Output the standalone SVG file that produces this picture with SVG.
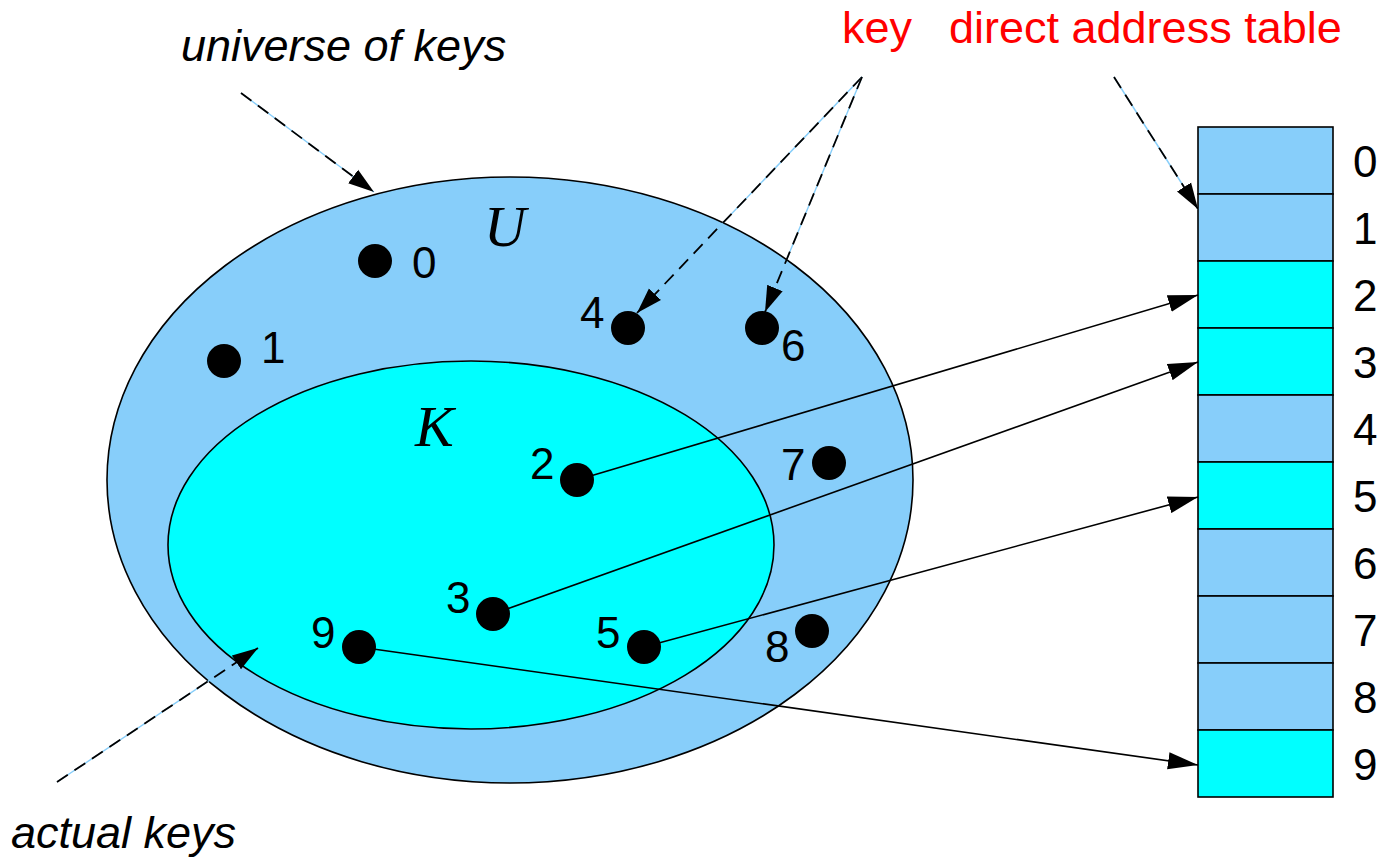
<svg xmlns="http://www.w3.org/2000/svg" width="1386" height="860" viewBox="0 0 1386 860">
<defs>
<style>
.lb{fill:#87cefa}
.cy{fill:#00ffff}
.ol{stroke:#000;stroke-width:1.6}
.dot{fill:#000}
.num{font-family:"Liberation Sans",Arial,sans-serif;font-size:44px;fill:#000}
.lab{font-family:"Liberation Sans",Arial,sans-serif;font-size:45px;font-style:italic;fill:#000}
.red{font-family:"Liberation Sans",Arial,sans-serif;font-size:45px;fill:#ff0000}
.math{font-family:"Liberation Serif","Times New Roman",serif;font-size:58px;font-style:italic;fill:#000}
.conn{stroke:#000;stroke-width:1.6;fill:none}
.under{stroke:#87cefa;stroke-width:1.4;fill:none}
.dash{stroke:#000;stroke-width:1.8;fill:none;stroke-dasharray:13 8}
</style>
<marker id="ah" markerUnits="userSpaceOnUse" markerWidth="30" markerHeight="18" viewBox="0 0 28 16" refX="28" refY="8" orient="auto">
<path d="M0,0 L28,8 L0,16 Z" fill="#000"/>
</marker>
<marker id="ahd" markerUnits="userSpaceOnUse" markerWidth="26" markerHeight="18" viewBox="0 0 25 16" refX="25" refY="8" orient="auto">
<path d="M0,0 L25,8 L0,16 Z" fill="#000"/>
</marker>
</defs>
<rect width="1386" height="860" fill="#fff"/>

<g id="universe">
<ellipse cx="510" cy="480" rx="403" ry="303" class="lb ol"/>
<text x="484" y="246" class="math">U</text>
</g>
<g id="actual">
<ellipse cx="471" cy="545" rx="303" ry="184" class="cy ol"/>
<text x="415" y="446" class="math">K</text>
</g>

<g id="table">
<rect x="1198" y="127" width="135" height="67" class="lb ol"/>
<rect x="1198" y="194" width="135" height="67" class="lb ol"/>
<rect x="1198" y="261" width="135" height="67" class="cy ol"/>
<rect x="1198" y="328" width="135" height="67" class="cy ol"/>
<rect x="1198" y="395" width="135" height="67" class="lb ol"/>
<rect x="1198" y="462" width="135" height="67" class="cy ol"/>
<rect x="1198" y="529" width="135" height="67" class="lb ol"/>
<rect x="1198" y="596" width="135" height="67" class="lb ol"/>
<rect x="1198" y="663" width="135" height="67" class="lb ol"/>
<rect x="1198" y="730" width="135" height="67" class="cy ol"/>
<text x="1353" y="177" class="num">0</text>
<text x="1353" y="244" class="num">1</text>
<text x="1353" y="311" class="num">2</text>
<text x="1353" y="378" class="num">3</text>
<text x="1353" y="445" class="num">4</text>
<text x="1353" y="512" class="num">5</text>
<text x="1353" y="579" class="num">6</text>
<text x="1353" y="646" class="num">7</text>
<text x="1353" y="713" class="num">8</text>
<text x="1353" y="780" class="num">9</text>
</g>

<g id="connectors">
<line x1="577" y1="480" x2="1198" y2="295" class="conn" marker-end="url(#ah)"/>
<line x1="493" y1="614" x2="1198" y2="362" class="conn" marker-end="url(#ah)"/>
<line x1="644" y1="647" x2="1198" y2="497" class="conn" marker-end="url(#ah)"/>
<line x1="359" y1="647" x2="1198" y2="765" class="conn" marker-end="url(#ah)"/>

<line x1="241" y1="93" x2="374" y2="192" class="under"/>
<line x1="241" y1="93" x2="374" y2="192" class="dash" marker-end="url(#ahd)"/>
<line x1="862" y1="77" x2="637" y2="313" class="under"/>
<line x1="862" y1="77" x2="637" y2="313" class="dash" marker-end="url(#ahd)"/>
<line x1="862" y1="77" x2="765" y2="312" class="under"/>
<line x1="862" y1="77" x2="765" y2="312" class="dash" marker-end="url(#ahd)"/>
<line x1="1114" y1="77" x2="1198" y2="209" class="under"/>
<line x1="1114" y1="77" x2="1198" y2="209" class="dash" marker-end="url(#ahd)"/>
<line x1="57" y1="782" x2="258" y2="648" class="under"/>
<line x1="57" y1="782" x2="258" y2="648" class="dash" marker-end="url(#ahd)"/>
</g>

<g id="key0"><circle cx="375" cy="261" r="17" class="dot"/><text x="412" y="278" class="num">0</text></g>
<g id="key1"><circle cx="224" cy="361" r="17" class="dot"/><text x="261" y="363" class="num">1</text></g>
<g id="key4"><circle cx="628" cy="328" r="17" class="dot"/><text x="580" y="328" class="num">4</text></g>
<g id="key6"><circle cx="762" cy="328" r="17" class="dot"/><text x="781" y="361" class="num">6</text></g>
<g id="key2"><circle cx="577" cy="480" r="17" class="dot"/><text x="530" y="479" class="num">2</text></g>
<g id="key7"><circle cx="829" cy="463" r="17" class="dot"/><text x="781" y="480" class="num">7</text></g>
<g id="key3"><circle cx="493" cy="614" r="17" class="dot"/><text x="446" y="613" class="num">3</text></g>
<g id="key5"><circle cx="644" cy="647" r="17" class="dot"/><text x="596" y="648" class="num">5</text></g>
<g id="key9"><circle cx="359" cy="647" r="17" class="dot"/><text x="311" y="648" class="num">9</text></g>
<g id="key8"><circle cx="812" cy="631" r="17" class="dot"/><text x="765" y="662" class="num">8</text></g>

<g id="labels">
<text x="181" y="61" class="lab">universe of keys</text>
<text x="11" y="848" class="lab">actual keys</text>
<text x="842" y="43" class="red">key</text>
<text x="949" y="43" class="red">direct address table</text>
</g>
</svg>
